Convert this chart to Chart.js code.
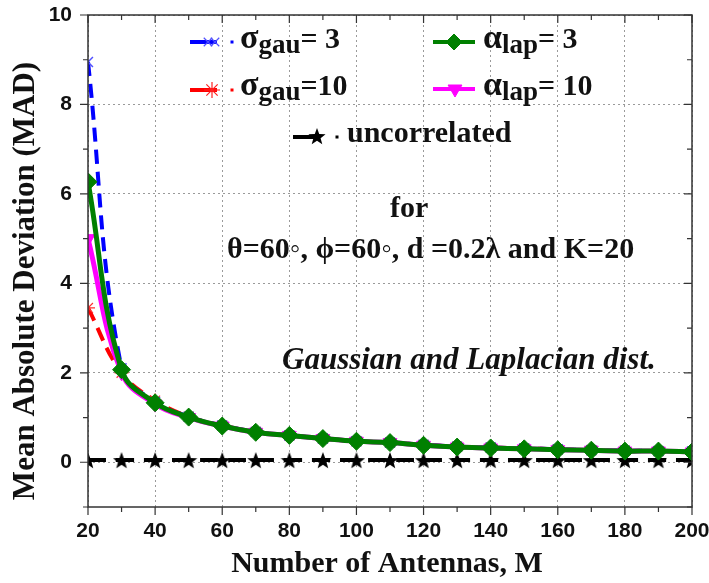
<!DOCTYPE html>
<html>
<head>
<meta charset="utf-8">
<script src="https://cdn.jsdelivr.net/npm/chart.js@4.4.1/dist/chart.umd.min.js"></script>
<style>
  html, body { margin: 0; padding: 0; background: #fff; }
  #wrap { width: 709px; height: 583px; }
</style>
</head>
<body>
<div id="wrap"><canvas id="madChart" width="709" height="583"></canvas></div>
<script>
// number of antennas M
var antennas = [20, 30, 40, 50, 60, 70, 80, 90, 100, 110, 120, 130, 140, 150, 160, 170, 180, 190, 200];

// MAD values
var sigmaGau3  = [8.95, 2.10, 1.35, 1.02, 0.82, 0.68, 0.60, 0.53, 0.47, 0.44, 0.39, 0.35, 0.33, 0.31, 0.29, 0.27, 0.26, 0.25, 0.24];
var sigmaGau10 = [3.45, 2.00, 1.38, 1.02, 0.82, 0.68, 0.60, 0.53, 0.47, 0.44, 0.39, 0.35, 0.33, 0.31, 0.29, 0.27, 0.26, 0.25, 0.24];
var alphaLap3  = [6.27, 2.07, 1.33, 1.01, 0.81, 0.67, 0.60, 0.53, 0.47, 0.44, 0.38, 0.34, 0.32, 0.30, 0.28, 0.27, 0.25, 0.25, 0.23];
var alphaLap10 = [5.00, 2.00, 1.30, 1.00, 0.81, 0.67, 0.60, 0.53, 0.47, 0.44, 0.38, 0.34, 0.32, 0.30, 0.28, 0.27, 0.25, 0.25, 0.23];
var uncorrelated = [0.05, 0.05, 0.05, 0.05, 0.05, 0.05, 0.05, 0.05, 0.05, 0.05, 0.05, 0.05, 0.05, 0.05, 0.05, 0.05, 0.05, 0.05, 0.05];

// tick labels
var xTicks = [20, 40, 60, 80, 100, 120, 140, 160, 180, 200];
var xMinor = [30, 50, 70, 90, 110, 130, 150, 170, 190];
var yTicks = [0, 2, 4, 6, 8, 10];
var yMinor = [-1, 1, 3, 5, 7, 9];

var serif = '"Liberation Serif", "Times New Roman", serif';
var sans = '"Liberation Sans", Arial, sans-serif';

function toXY(ys) {
    return antennas.map(function (m, i) { return {x: m, y: ys[i]}; });
}

// filled five point star for the uncorrelated curve
function makeStar(size) {
    var c = document.createElement('canvas');
    c.width = size; c.height = size;
    var g = c.getContext('2d');
    var cx = size / 2, cy = size / 2 + 1, R = size / 2, r = R * 0.42;
    g.beginPath();
    for (var i = 0; i < 10; i++) {
        var a = -Math.PI / 2 + i * Math.PI / 5;
        var rr = i % 2 ? r : R;
        g.lineTo(cx + rr * Math.cos(a), cy + rr * Math.sin(a));
    }
    g.closePath();
    g.fillStyle = '#000';
    g.fill();
    return c;
}
var starImg = makeStar(18);

var decor = {
    id: 'decor',
    afterDraw: function (chart) {
        var ctx = chart.ctx, a = chart.chartArea;
        var xs = chart.scales.x, ys = chart.scales.y;
        ctx.save();

        // frame
        ctx.strokeStyle = '#333';
        ctx.lineWidth = 1.5;
        ctx.strokeRect(a.left, a.top, a.right - a.left, a.bottom - a.top);

        // ticks: outward bottom/left, inward top/right
        ctx.lineWidth = 1.2;
        ctx.beginPath();
        function xt(v, len) {
            var p = xs.getPixelForValue(v);
            ctx.moveTo(p, a.bottom); ctx.lineTo(p, a.bottom + len);
            ctx.moveTo(p, a.top); ctx.lineTo(p, a.top + len);
        }
        function yt(v, len) {
            var p = ys.getPixelForValue(v);
            ctx.moveTo(a.left, p); ctx.lineTo(a.left - len, p);
            ctx.moveTo(a.right, p); ctx.lineTo(a.right - len, p);
        }
        xTicks.forEach(function (v) { xt(v, 8); });
        xMinor.forEach(function (v) { xt(v, 5); });
        yTicks.forEach(function (v) { yt(v, 8); });
        yMinor.forEach(function (v) { yt(v, 5); });
        ctx.stroke();

        // axis titles
        ctx.fillStyle = '#111';
        ctx.font = 'bold 30px ' + serif;
        ctx.textAlign = 'center';
        ctx.textBaseline = 'middle';
        ctx.fillText('Number of Antennas, M', 387, 564);
        ctx.save();
        ctx.translate(26, 281);
        ctx.rotate(-Math.PI / 2);
        ctx.font = 'bold 31px ' + serif;
        ctx.fillText('Mean Absolute Deviation (MAD)', 0, 0);
        ctx.restore();

        // legend
        function sample(x0, x1, mx, y, color, style, radius, rot, fill, width) {
            ctx.save();
            ctx.strokeStyle = color;
            ctx.lineWidth = 4;
            ctx.beginPath(); ctx.moveTo(x0, y); ctx.lineTo(x1, y); ctx.stroke();
            ctx.fillStyle = fill;
            ctx.strokeStyle = fill;
            ctx.lineWidth = width;
            Chart.helpers.drawPoint(ctx, {pointStyle: style, radius: radius, rotation: rot, borderWidth: width}, mx, y);
            ctx.restore();
        }
        function dot(x, y, color) {
            ctx.fillStyle = color;
            ctx.fillRect(x - 1.5, y - 1.5, 3, 3);
        }
        function label(x, y, main, sub, rest) {
            ctx.fillStyle = '#111';
            ctx.textAlign = 'left';
            ctx.textBaseline = 'alphabetic';
            ctx.font = 'bold 34px ' + serif;
            ctx.fillText(main, x, y);
            x += ctx.measureText(main).width;
            ctx.font = 'bold 27px ' + serif;
            ctx.fillText(sub, x, y + 5);
            x += ctx.measureText(sub).width;
            ctx.font = 'bold 30px ' + serif;
            ctx.fillText(rest, x, y);
        }
        sample(190, 217, 208, 42, '#0000ff', 'crossRot', 6, 0, '#5050ff', 1.2);
        sample(190, 190, 215, 42, '#0000ff', 'crossRot', 6, 0, '#5050ff', 1.2);
        dot(232, 42, '#0000ff');
        label(240, 48, 'σ', 'gau', '= 3');
        sample(190, 217, 212, 90, '#ff0000', 'star', 8, 0, '#ff2020', 1.2);
        dot(232, 90, '#ff0000');
        label(240, 95, 'σ', 'gau', '=10');
        sample(433, 475, 454, 42, '#008000', 'rectRot', 8, 0, '#008000', 1);
        label(483, 48, 'α', 'lap', '= 3');
        sample(433, 475, 455, 89, '#ff00ff', 'triangle', 8, 180, '#ff00ff', 1);
        label(483, 95, 'α', 'lap', '= 10');
        ctx.strokeStyle = '#000';
        ctx.lineWidth = 4;
        ctx.beginPath(); ctx.moveTo(293, 137); ctx.lineTo(314, 137); ctx.stroke();
        ctx.drawImage(starImg, 308, 127);
        dot(337, 137, '#000');
        ctx.fillStyle = '#111';
        ctx.font = 'bold 30px ' + serif;
        ctx.textAlign = 'left';
        ctx.textBaseline = 'alphabetic';
        ctx.fillText('uncorrelated', 347, 142);

        // annotations
        ctx.fillText('for', 390, 217);
        ctx.fillText('θ=60◦, ϕ=60◦, d =0.2λ and K=20', 227, 258);
        ctx.font = 'italic bold 31px ' + serif;
        ctx.fillText('Gaussian and Laplacian dist.', 282, 369);
        ctx.restore();
    }
};

var ctxL = document.getElementById('madChart').getContext('2d');
var madChart = new Chart(ctxL, {
    type: 'line',
    data: {
        datasets: [{
            label: 'σgau= 3',
            data: toXY(sigmaGau3),
            borderColor: '#0000ff',
            borderWidth: 4,
            borderDash: [14, 8],
            pointStyle: 'crossRot',
            pointRadius: 7,
            pointBorderColor: '#5050ff',
            pointBorderWidth: 1.5,
            order: 2
        }, {
            label: 'σgau=10',
            data: toXY(sigmaGau10),
            borderColor: '#ff0000',
            borderWidth: 4,
            borderDash: [14, 8],
            pointStyle: 'star',
            pointRadius: 7,
            pointBorderColor: '#ff3030',
            pointBorderWidth: 1.2,
            order: 3
        }, {
            label: 'αlap= 3',
            data: toXY(alphaLap3),
            borderColor: '#008000',
            backgroundColor: '#008000',
            borderWidth: 5,
            pointStyle: 'rectRot',
            pointRadius: 9,
            pointBorderWidth: 1,
            order: 0
        }, {
            label: 'αlap= 10',
            data: toXY(alphaLap10),
            borderColor: '#ff00ff',
            backgroundColor: '#ff00ff',
            borderWidth: 5,
            pointStyle: 'triangle',
            pointRotation: 180,
            pointRadius: 8,
            pointBorderWidth: 1,
            order: 1
        }, {
            label: 'uncorrelated',
            data: toXY(uncorrelated),
            borderColor: '#000',
            borderWidth: 4,
            borderDash: [18, 10],
            pointStyle: starImg,
            order: 4
        }]
    },
    options: {
        responsive: false,
        animation: false,
        tension: 0.4,
        layout: {padding: {top: 15, right: 17, left: 0, bottom: 0}},
        plugins: {legend: {display: false}, tooltip: {enabled: false}},
        scales: {
            x: {
                type: 'linear',
                min: 20, max: 200,
                afterBuildTicks: function (s) { s.ticks = xTicks.map(function (v) { return {value: v}; }); },
                afterFit: function (s) { s.height = 76; s.paddingLeft = 0; s.paddingRight = 0; },
                grid: {color: '#9a9a9a', lineWidth: 1, drawTicks: false},
                border: {display: false, dash: [2, 3]},
                ticks: {padding: 12, color: '#111', font: {family: sans, weight: 'bold', size: 21}, maxRotation: 0}
            },
            y: {
                min: -1, max: 10,
                afterBuildTicks: function (s) { s.ticks = yTicks.map(function (v) { return {value: v}; }); },
                afterFit: function (s) { s.width = 88; s.paddingTop = 0; s.paddingBottom = 0; },
                grid: {color: '#9a9a9a', lineWidth: 1, drawTicks: false},
                border: {display: false, dash: [2, 3]},
                ticks: {padding: 16, color: '#111', font: {family: sans, weight: 'bold', size: 21}}
            }
        }
    },
    plugins: [decor]
});
</script>
</body>
</html>
